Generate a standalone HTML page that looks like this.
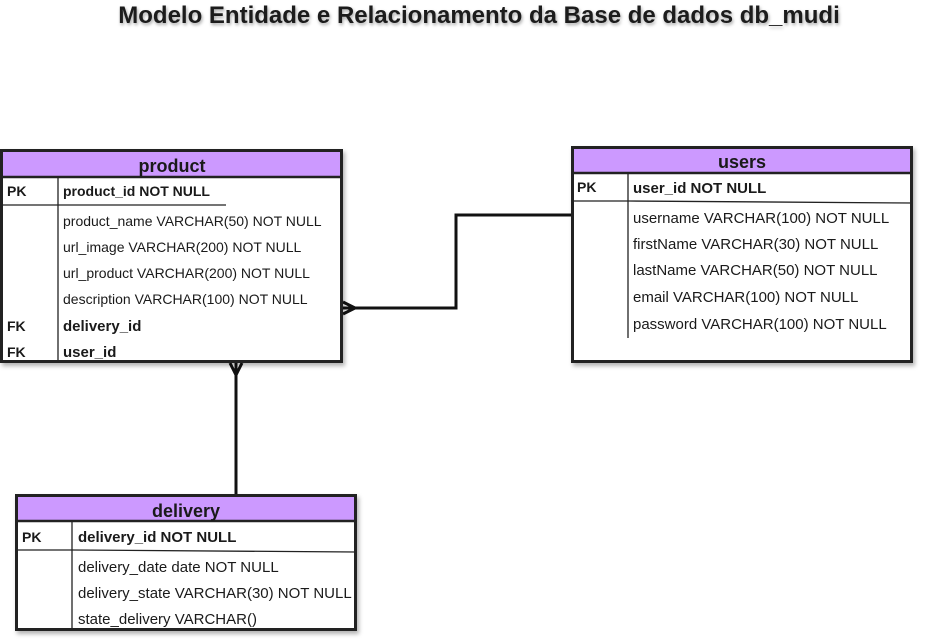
<!DOCTYPE html>
<html><head><meta charset="utf-8"><style>
body{margin:0;background:#fff;width:926px;height:644px;overflow:hidden}
svg{display:block}
text{font-family:"Liberation Sans",sans-serif;fill:#1a1a1a}
.b{font-weight:bold}
</style></head><body>
<svg width="926" height="644" viewBox="0 0 926 644">
<defs><filter id="sh" x="-5%" y="-5%" width="115%" height="115%"><feDropShadow dx="2" dy="3" stdDeviation="2" flood-color="#000" flood-opacity="0.3"/></filter>
<filter id="ts"><feDropShadow dx="1" dy="2" stdDeviation="1.5" flood-color="#000" flood-opacity="0.35"/></filter></defs>
<text x="479" y="23" text-anchor="middle" class="b" font-size="24" filter="url(#ts)">Modelo Entidade e Relacionamento da Base de dados db_mudi</text>

<g stroke="#111" stroke-width="3" fill="none">
<polyline points="571,215 456,215 456,308 343,308"/>
<path d="M355,308 L343,302 M355,308 L343,314"/>
<line x1="236" y1="363" x2="236" y2="494"/>
<path d="M236,375 L230,363 M236,375 L242,363"/>
</g>

<g>
<rect x="1.5" y="150.5" width="340" height="211" fill="#fff" stroke="#222" stroke-width="3" filter="url(#sh)"/>
<rect x="3" y="152" width="337" height="24" fill="#cc99ff"/>
<line x1="1" y1="177" x2="342" y2="177" stroke="#222" stroke-width="2.5"/>
<line x1="58" y1="177" x2="58" y2="361" stroke="#222" stroke-width="1.3"/>
<line x1="2" y1="205" x2="226" y2="205" stroke="#222" stroke-width="1.3"/>
<text x="172" y="172" text-anchor="middle" class="b" font-size="18">product</text>
<g font-size="14"><text x="7" y="196" class="b">PK</text><text x="63" y="196" class="b">product_id NOT NULL</text>
<text x="63" y="226">product_name VARCHAR(50) NOT NULL</text>
<text x="63" y="252">url_image VARCHAR(200) NOT NULL</text>
<text x="63" y="278">url_product VARCHAR(200) NOT NULL</text>
<text x="63" y="304">description VARCHAR(100) NOT NULL</text>
<text x="7" y="331" class="b">FK</text><text x="63" y="331" class="b" font-size="15">delivery_id</text>
<text x="7" y="357" class="b">FK</text><text x="63" y="357" class="b" font-size="15">user_id</text></g>
</g>

<g>
<rect x="572.5" y="147.5" width="339" height="214" fill="#fff" stroke="#222" stroke-width="3" filter="url(#sh)"/>
<rect x="574" y="149" width="336" height="23" fill="#cc99ff"/>
<line x1="572" y1="173" x2="912" y2="173" stroke="#222" stroke-width="2.5"/>
<line x1="628" y1="173" x2="628" y2="338" stroke="#222" stroke-width="1.3"/>
<line x1="572" y1="201" x2="628" y2="201" stroke="#222" stroke-width="1.3"/>
<line x1="628" y1="201" x2="912" y2="203" stroke="#222" stroke-width="1.3"/>
<text x="742" y="168" text-anchor="middle" class="b" font-size="18">users</text>
<g font-size="15"><text x="577" y="192" class="b" font-size="14">PK</text><text x="633" y="193" class="b">user_id NOT NULL</text>
<text x="633" y="223">username VARCHAR(100) NOT NULL</text>
<text x="633" y="249">firstName VARCHAR(30) NOT NULL</text>
<text x="633" y="275">lastName VARCHAR(50) NOT NULL</text>
<text x="633" y="302">email VARCHAR(100) NOT NULL</text>
<text x="633" y="329">password VARCHAR(100) NOT NULL</text></g>
</g>

<g>
<rect x="16.5" y="495.5" width="339" height="134" fill="#fff" stroke="#222" stroke-width="3" filter="url(#sh)"/>
<rect x="18" y="497" width="336" height="23" fill="#cc99ff"/>
<line x1="16" y1="521" x2="356" y2="521" stroke="#222" stroke-width="2.5"/>
<line x1="72" y1="521" x2="72" y2="629" stroke="#222" stroke-width="1.3"/>
<line x1="17" y1="550" x2="72" y2="550" stroke="#222" stroke-width="1.3"/>
<line x1="72" y1="550" x2="356" y2="552" stroke="#222" stroke-width="1.3"/>
<text x="186" y="517" text-anchor="middle" class="b" font-size="18">delivery</text>
<g font-size="15"><text x="22" y="542" class="b" font-size="14">PK</text><text x="78" y="542" class="b">delivery_id NOT NULL</text>
<text x="78" y="572">delivery_date date NOT NULL</text>
<text x="78" y="598">delivery_state VARCHAR(30) NOT NULL</text>
<text x="78" y="624">state_delivery VARCHAR()</text></g>
</g>
</svg>
</body></html>
